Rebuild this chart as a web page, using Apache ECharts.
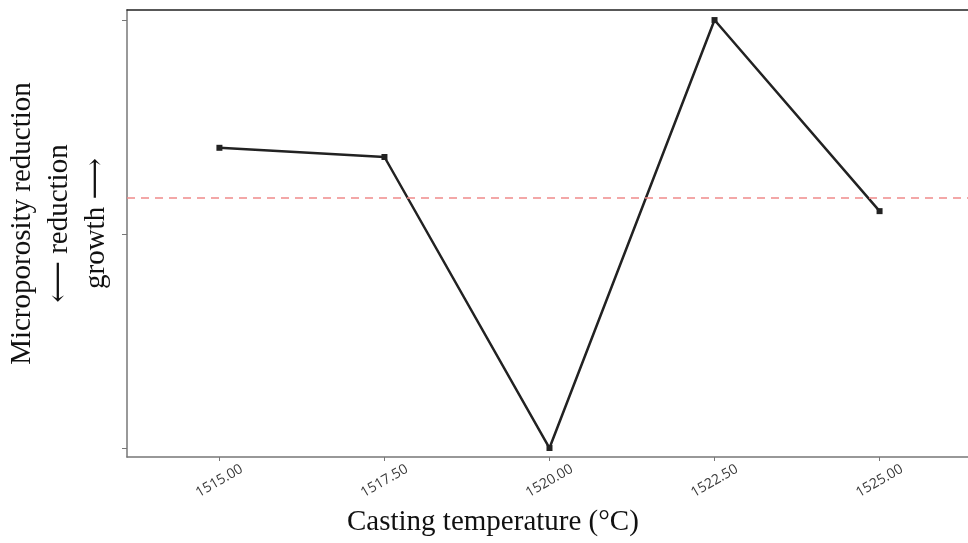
<!DOCTYPE html>
<html>
<head>
<meta charset="utf-8">
<script src="https://cdn.jsdelivr.net/npm/echarts@6/dist/echarts.min.js"></script>
<style>
  html, body { margin: 0; padding: 0; background: #fff; }
  #chart { width: 968px; height: 543px; }
</style>
</head>
<body>
<div id="chart"></div>
<script>
// casting temperatures (°C) and the relative microporosity change
const temperatures = [1515, 1517.5, 1520, 1522.5, 1525];
const porosityChange = [0.403, 0.36, -1.0, 1.0, 0.107];
const baseline = 0.173;
const xTicks = [1515, 1517.5, 1520, 1522.5, 1525];
const yTicks = [-1, 0, 1];

const chartDom = document.getElementById('chart');
const myChart = echarts.init(chartDom);

const serif = '"Liberation Serif", "DejaVu Serif", serif';

const option = {
  animation: false,
  grid: { left: 127, top: 10, right: -2, bottom: 86, outerBoundsMode: 'none', containLabel: false },
  xAxis: [
    {
      type: 'value',
      min: 1513.6,
      max: 1526.37,
      splitLine: { show: false },
      axisLine: { onZero: false, lineStyle: { color: '#777', width: 1.5 } },
      axisTick: { length: 4, lineStyle: { color: '#777' }, customValues: xTicks },
      axisLabel: {
        customValues: xTicks,
        rotate: 30,
        align: 'center',
        verticalAlign: 'middle',
        margin: 24,
        color: '#3a3a3a',
        fontSize: 14,
        fontFamily: '"Open Sans", sans-serif',
        formatter: v => v.toFixed(2)
      }
    },
    {
      type: 'value',
      position: 'top',
      min: 1513.6,
      max: 1526.37,
      splitLine: { show: false },
      axisLine: { onZero: false, lineStyle: { color: '#222', width: 1.5 } },
      axisTick: { show: false },
      axisLabel: { show: false }
    }
  ],
  yAxis: {
    type: 'value',
    min: -1.042,
    max: 1.047,
    splitLine: { show: false },
    axisLine: { show: true, onZero: false, lineStyle: { color: '#777', width: 1.5 } },
    axisTick: { show: true, length: 5, lineStyle: { color: '#777' }, customValues: yTicks },
    axisLabel: { show: false },
    name: 'Microporosity reduction\n\u27f5 reduction\ngrowth \u27f6',
    nameLocation: 'middle',
    nameRotate: 90,
    nameGap: 12,
    nameTextStyle: {
      fontFamily: serif,
      fontSize: 29,
      lineHeight: 37,
      color: '#111',
      align: 'center',
      padding: [0, 0, 0, 20]
    }
  },
  graphic: [
    {
      type: 'text',
      left: 347,
      top: 508,
      style: {
        text: 'Casting temperature (\u00b0C)',
        font: '29px ' + serif,
        fill: '#111'
      }
    }
  ],
  series: [
    {
      type: 'line',
      data: temperatures.map((t, i) => [t, porosityChange[i]]),
      symbol: 'rect',
      symbolSize: 6,
      lineStyle: { color: '#222', width: 2.5 },
      itemStyle: { color: '#222' },
      markLine: {
        silent: true,
        symbol: 'none',
        label: { show: false },
        lineStyle: { color: '#f08a8a', type: [8, 6], width: 1.5 },
        data: [{ yAxis: baseline }]
      }
    }
  ]
};

option && myChart.setOption(option);
</script>
</body>
</html>
